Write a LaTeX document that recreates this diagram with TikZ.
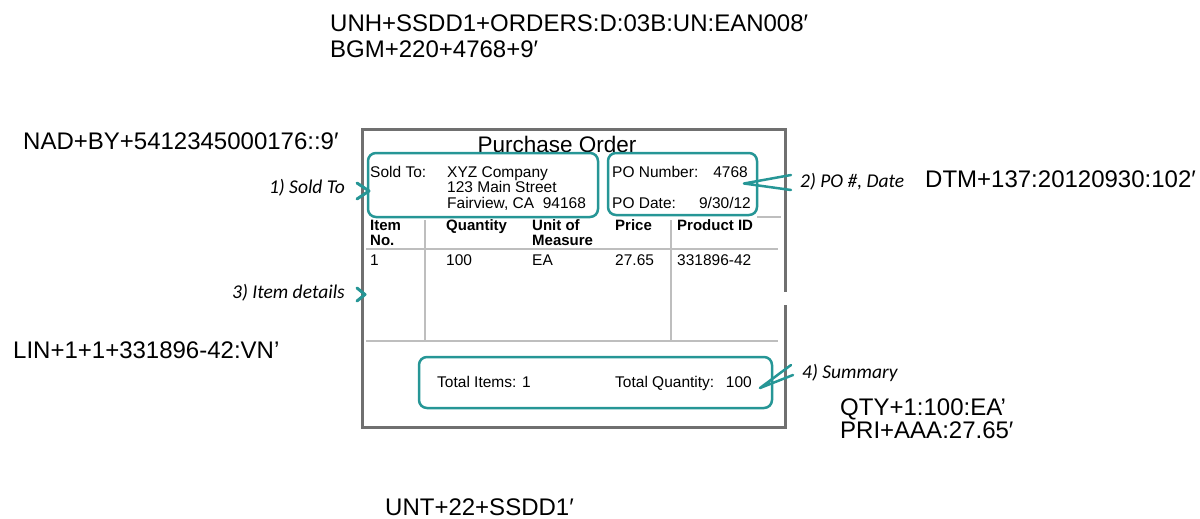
\documentclass[tikz,border=0pt]{standalone}
\usepackage{fontspec}
\setmainfont{Liberation Sans}
\newfontfamily\labfont{Carlito}
\definecolor{tealc}{RGB}{38,150,150}
\definecolor{framec}{RGB}{112,112,112}
\definecolor{rulec}{RGB}{190,190,190}
\tikzset{
  edi/.style={font=\fontsize{24}{28}\selectfont, inner sep=0pt, anchor=base west},
  form/.style={font=\fontsize{15.5}{18}\selectfont, inner sep=0pt, anchor=base west},
  formb/.style={font=\fontsize{15}{18}\selectfont\bfseries, inner sep=0pt, anchor=base west},
  lab/.style={font=\fontsize{19.5}{22}\selectfont\labfont\itshape, inner sep=0pt},
  tealbox/.style={draw=tealc, line width=2.5pt, rounded corners=8pt, inner sep=0pt},
  tealstroke/.style={draw=tealc, line width=3pt, line cap=round, line join=round},
  rulel/.style={draw=rulec, line width=1.2pt},
  frameb/.style={draw=framec, line width=3pt, inner sep=0pt}
}
\begin{document}
\begin{tikzpicture}[x=1pt,y=-1pt]
\useasboundingbox (0,0) rectangle (1200,519);
% EDI segments
\node[edi] (unh) at (330,32) {UNH+SSDD1+ORDERS:D:03B:UN:EAN008′};
\node[edi] (bgm) at (330,58) {BGM+220+4768+9′};
\node[edi] (nad) at (23,149) {NAD+BY+5412345000176::9′};
\node[edi] (lin) at (13,358) {LIN+1+1+331896-42:VN’};
\node[edi] (dtm) at (925,187) {DTM+137:20120930:102′};
\node[edi] (qty) at (840,415) {QTY+1:100:EA’};
\node[edi] (pri) at (840,438) {PRI+AAA:27.65′};
\node[edi] (unt) at (385,515.5) {UNT+22+SSDD1′};
% form frame
\node[frameb, minimum width=423pt, minimum height=298pt] (frame) at (573.5,278.5) {};
\coordinate (gapa) at (781,292); \coordinate (gapb) at (789,305);
\fill[white] (gapa) rectangle (gapb);
\node[font=\fontsize{22.5}{26}\selectfont, inner sep=0pt, anchor=base] (title) at (557,152) {Purchase Order};
% table rules
\coordinate (r0a) at (757,217); \coordinate (r0b) at (781,217);
\draw[rulel] (r0a) -- (r0b);
\coordinate (r1a) at (366,249); \coordinate (r1b) at (778,249);
\draw[rulel] (r1a) -- (r1b);
\coordinate (r2a) at (366,341); \coordinate (r2b) at (778,341);
\draw[rulel] (r2a) -- (r2b);
\coordinate (v1a) at (425,220); \coordinate (v1b) at (425,341);
\draw[rulel] (v1a) -- (v1b);
\coordinate (v2a) at (671,220); \coordinate (v2b) at (671,341);
\draw[rulel] (v2a) -- (v2b);
% boxes
\node[tealbox, minimum width=230pt, minimum height=64pt] (soldbox) at (483,185) {};
\node[tealbox, minimum width=149pt, minimum height=62pt] (pobox) at (682.5,184) {};
\node[tealbox, minimum width=353pt, minimum height=51pt] (sumbox) at (595.5,382.5) {};
% sold to
\node[form] (soldto) at (370,177) {Sold To:};
\node[form] (xyz) at (447,177) {XYZ Company};
\node[form] (street) at (447,192.5) {123 Main Street};
\node[form] (city) at (447,208) {Fairview, CA\ \ 94168};
% po
\node[form] (pon) at (612,177) {PO Number:};
\node[form, anchor=base east] (ponv) at (748,177) {4768};
\node[form] (pod) at (612,208) {PO Date:};
\node[form, anchor=base east] (podv) at (751,208) {9/30/12};
% headers
\node[formb] (h1) at (370,230) {Item};
\node[formb] (h1b) at (370,245) {No.};
\node[formb] (h2) at (446,230) {Quantity};
\node[formb] (h3) at (532,230) {Unit of};
\node[formb] (h3b) at (532,245) {Measure};
\node[formb] (h4) at (615,230) {Price};
\node[formb] (h5) at (677,230) {Product ID};
% row
\node[form] (c1) at (370,265) {1};
\node[form] (c2) at (446,265) {100};
\node[form] (c3) at (532,265) {EA};
\node[form] (c4) at (615,265) {27.65};
\node[form] (c5) at (677,265) {331896-42};
% summary
\node[form] (ti) at (437,387) {Total Items: 1};
\node[form] (tq) at (615,387) {Total Quantity:};
\node[form, anchor=base east] (tqv) at (752,387) {100};
% annotation labels
\node[lab, anchor=base east] (l1) at (345,193) {1) Sold To};
\node[lab, anchor=base east] (l3) at (345,298) {3) Item details};
\node[lab, anchor=base west] (l2) at (800,187) {2) PO \#, Date};
\node[lab, anchor=base west] (l4) at (802,378) {4) Summary};
% teal marks
\coordinate (m1a) at (357,183); \coordinate (m1v) at (369,191); \coordinate (m1b) at (357,199);
\draw[tealstroke] (m1a) -- (m1v) -- (m1b);
\coordinate (m3a) at (357,288); \coordinate (m3v) at (365,294.5); \coordinate (m3b) at (357,301);
\draw[tealstroke] (m3a) -- (m3v) -- (m3b);
\coordinate (m2a) at (791,175); \coordinate (m2v) at (744,183.5); \coordinate (m2b) at (791,190);
\draw[tealstroke, line width=2.5pt] (m2a) -- (m2v) -- (m2b);
\coordinate (m4a) at (791,365); \coordinate (m4v) at (760,388); \coordinate (m4b) at (793,375);
\draw[tealstroke, line width=2.5pt] (m4a) -- (m4v) -- (m4b);
\end{tikzpicture}
\end{document}
